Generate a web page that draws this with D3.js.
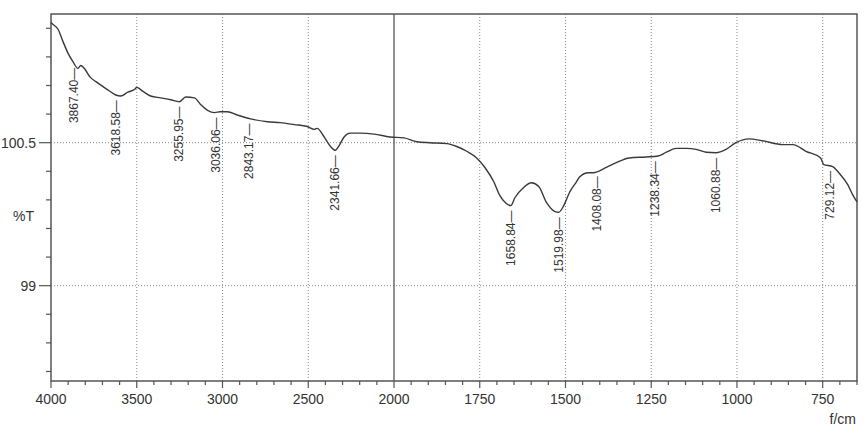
<!DOCTYPE html>
<html>
<head>
<meta charset="utf-8">
<script src="https://cdn.jsdelivr.net/npm/d3@7"></script>
<style>
  body { margin: 0; background: #fff; }
  text { font-family: "Liberation Sans", Arial, sans-serif; fill: #333; }
</style>
</head>
<body>
<svg id="chart" width="866" height="426"></svg>
<script>
// spectrum: wavenumber (1/cm) and %T
const wavenumbers = [4000, 3988, 3959, 3930, 3901, 3872, 3843, 3826, 3802, 3773, 3738, 3698, 3657, 3622, 3593,
  3552, 3512, 3500, 3465, 3419, 3360, 3302, 3250, 3215, 3163, 3128, 3087, 3047, 3012, 2971, 2913, 2837, 2738,
  2663, 2581, 2506, 2465, 2448, 2407, 2370, 2342, 2320, 2291, 2256, 2198, 2116, 2023, 1971, 1933, 1895, 1846,
  1817, 1788, 1759, 1735, 1709, 1692, 1675, 1659, 1648, 1622, 1599, 1578, 1555, 1532, 1520, 1505, 1488, 1468,
  1459, 1433, 1419, 1381, 1352, 1314, 1265, 1230, 1206, 1177, 1148, 1119, 1090, 1061, 1032, 1003, 965, 925,
  866, 837, 799, 756, 747, 721, 703, 677, 662, 650];
const transmittance = [101.76, 101.74, 101.69, 101.56, 101.44, 101.35, 101.28, 101.31, 101.27, 101.19, 101.14,
  101.09, 101.04, 101.0, 100.99, 101.03, 101.06, 101.08, 101.04, 100.99, 100.97, 100.95, 100.93, 100.98, 100.97,
  100.9, 100.84, 100.815, 100.825, 100.825, 100.79, 100.75, 100.72, 100.71, 100.69, 100.67, 100.64, 100.65,
  100.56, 100.46, 100.42, 100.47, 100.56, 100.6, 100.6, 100.59, 100.56, 100.55, 100.51, 100.5, 100.49, 100.46,
  100.41, 100.34, 100.24, 100.09, 99.95, 99.87, 99.84, 99.92, 100.03, 100.08, 100.04, 99.87, 99.78, 99.77,
  99.84, 99.98, 100.09, 100.14, 100.185, 100.185, 100.24, 100.29, 100.34, 100.35, 100.36, 100.4, 100.44,
  100.44, 100.43, 100.4, 100.395, 100.43, 100.5, 100.54, 100.52, 100.48, 100.48, 100.41, 100.34, 100.27,
  100.25, 100.185, 100.06, 99.95, 99.88];

const peakWavenumbers = [3867.40, 3618.58, 3255.95, 3036.06, 2843.17, 2341.66, 1658.84, 1519.98, 1408.08,
  1238.34, 1060.88, 729.12];

const xTickValues = [4000, 3500, 3000, 2500, 2000, 1750, 1500, 1250, 1000, 750];
const yLabelValues = [100.5, 99];
const xGridValues = [3500, 3000, 2500, 1750, 1500, 1250, 1000, 750];

const svg = d3.select("#chart");
const plotLeft = 51, plotRight = 857, plotTop = 14, plotBottom = 381;

// split axis: 4000-2000 compressed, 2000-650 expanded
const x = d3.scaleLinear().domain([4000, 2000, 650]).range([plotLeft, 394, plotRight]);
const y = d3.scaleLinear().domain([98.0, 101.85]).range([plotBottom, plotTop]);

const minorX = d3.range(4000, 2000, -100).concat(d3.range(2000, 649, -50));
const minorY = d3.range(98.1, 101.8, 0.3).map((v) => +v.toFixed(1));

// grid
svg.append("g")
  .selectAll("line")
  .data(xGridValues)
  .join("line")
  .attr("x1", (d) => x(d)).attr("x2", (d) => x(d))
  .attr("y1", plotTop).attr("y2", plotBottom)
  .attr("stroke", "#8a8a8a")
  .attr("stroke-width", 1)
  .attr("stroke-dasharray", "1,2");
svg.append("g")
  .selectAll("line")
  .data(yLabelValues)
  .join("line")
  .attr("x1", plotLeft).attr("x2", plotRight)
  .attr("y1", (d) => y(d)).attr("y2", (d) => y(d))
  .attr("stroke", "#8a8a8a")
  .attr("stroke-width", 1)
  .attr("stroke-dasharray", "1,2");
svg.append("line")
  .attr("x1", x(2000)).attr("x2", x(2000))
  .attr("y1", plotTop).attr("y2", plotBottom)
  .attr("stroke", "#555").attr("stroke-width", 1.3);

// frame
svg.append("rect")
  .attr("x", plotLeft).attr("y", plotTop)
  .attr("width", plotRight - plotLeft).attr("height", plotBottom - plotTop)
  .attr("fill", "none")
  .attr("stroke", "#555")
  .attr("stroke-width", 1.5);

// x ticks
svg.append("g")
  .selectAll("line")
  .data(minorX)
  .join("line")
  .attr("x1", (d) => x(d)).attr("x2", (d) => x(d))
  .attr("y1", plotBottom)
  .attr("y2", (d) => plotBottom + (xTickValues.includes(d) ? 7 : 4))
  .attr("stroke", "#555").attr("stroke-width", 1.2);
svg.append("g")
  .selectAll("text")
  .data(xTickValues)
  .join("text")
  .attr("x", (d) => x(d))
  .attr("y", 404)
  .attr("text-anchor", "middle")
  .style("font-size", "14px")
  .text((d) => d);

// y ticks
svg.append("g")
  .selectAll("line")
  .data(minorY)
  .join("line")
  .attr("x1", (d) => plotLeft - (yLabelValues.includes(d) ? 12 : 5))
  .attr("x2", plotLeft)
  .attr("y1", (d) => y(d)).attr("y2", (d) => y(d))
  .attr("stroke", "#555").attr("stroke-width", 1.2);
svg.append("g")
  .selectAll("text")
  .data(yLabelValues)
  .join("text")
  .attr("x", 36)
  .attr("y", (d) => y(d))
  .attr("dy", "0.35em")
  .attr("text-anchor", "end")
  .style("font-size", "14px")
  .text((d) => d);

svg.append("text")
  .attr("x", 34).attr("y", 221)
  .attr("text-anchor", "end")
  .style("font-size", "14px")
  .text("%T");
svg.append("text")
  .attr("x", 856).attr("y", 424)
  .attr("text-anchor", "end")
  .style("font-size", "14px")
  .text("f/cm");

// spectrum
const points = wavenumbers.map((w, i) => [w, transmittance[i]]);
svg.append("path")
  .datum(points)
  .attr("fill", "none")
  .attr("stroke", "#3a3a3a")
  .attr("stroke-width", 1.4)
  .attr("d", d3.line()
    .x((d) => x(d[0]))
    .y((d) => y(d[1]))
    .curve(d3.curveMonotoneX));

// peak labels hang just below the curve
const valueAt = (w) => {
  const i = wavenumbers.findIndex((v) => v <= w);
  if (i <= 0) return transmittance[Math.max(i, 0)];
  const t = (wavenumbers[i - 1] - w) / (wavenumbers[i - 1] - wavenumbers[i]);
  return transmittance[i - 1] + t * (transmittance[i] - transmittance[i - 1]);
};
svg.append("g")
  .selectAll("text")
  .data(peakWavenumbers)
  .join("text")
  .attr("transform", (d) => `translate(${x(d) + 4},${y(valueAt(d)) + 5}) rotate(-90)`)
  .attr("text-anchor", "end")
  .style("font-size", "12px")
  .text((d) => d.toFixed(2) + "\u2014");
</script>
</body>
</html>
